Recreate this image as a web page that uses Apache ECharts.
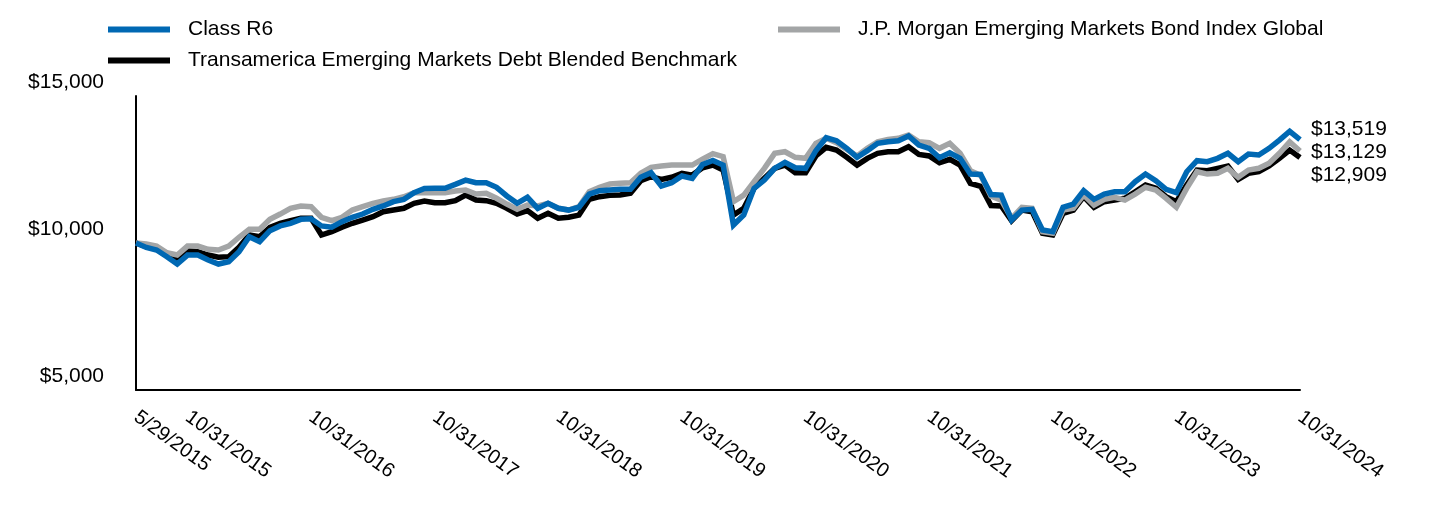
<!DOCTYPE html>
<html>
<head>
<meta charset="utf-8">
<script src="https://cdn.jsdelivr.net/npm/echarts@6/dist/echarts.min.js"></script>
<style>
html,body{margin:0;padding:0;background:#ffffff;}
#chart{width:1440px;height:516px;}
</style>
</head>
<body>
<div id="chart"></div>
<script>
// ---------- DATA ----------
const seriesNames = [
  'Class R6',
  'J.P. Morgan Emerging Markets Bond Index Global',
  'Transamerica Emerging Markets Debt Blended Benchmark'
];

const tickLabels = ['5/29/2015','10/31/2015','10/31/2016','10/31/2017','10/31/2018',
  '10/31/2019','10/31/2020','10/31/2021','10/31/2022','10/31/2023','10/31/2024'];

const yTicks = [5000, 10000, 15000];

// monthly observation dates: 5/29/2015 then every month end to 10/31/2024
const categories = ['5/29/2015'];
for (let k = 1; k < 114; k++) {
  const m0 = 4 + k;
  const y = 2015 + Math.floor(m0 / 12), m = m0 % 12;
  const last = new Date(Date.UTC(y, m + 1, 0)).getUTCDate();
  categories.push((m + 1) + '/' + last + '/' + y);
}

const classR6 = [
  10000, 9850, 9760, 9530, 9285, 9590, 9590, 9420, 9285, 9365,
  9700, 10215, 10045, 10420, 10580, 10670, 10805, 10825, 10580, 10535,
  10725, 10875, 10985, 11145, 11260, 11405, 11485, 11710, 11855, 11860,
  11860, 11995, 12140, 12050, 12050, 11895, 11600, 11350, 11555, 11180,
  11350, 11180, 11120, 11215, 11665, 11780, 11800, 11825, 11825, 12235,
  12390, 11940, 12050, 12280, 12200, 12670, 12810, 12650, 10610, 10950,
  11860, 12140, 12540, 12745, 12560, 12540, 13140, 13580, 13480, 13220,
  12915, 13140, 13390, 13445, 13480, 13640, 13330, 13220, 12900, 13070,
  12880, 12345, 12330, 11650, 11630, 10780, 11120, 11145, 10440, 10385,
  11215, 11325, 11780, 11485, 11665, 11745, 11745, 12085, 12345, 12120,
  11825, 11710, 12425, 12800, 12765, 12880, 13050, 12765, 13025, 12995,
  13220, 13500, 13800, 13519
];

const jpmEmbiGlobal = [
  10000, 9965, 9895, 9670, 9590, 9895, 9895, 9785, 9760, 9895,
  10195, 10465, 10465, 10805, 10985, 11180, 11260, 11235, 10875, 10760,
  10875, 11120, 11235, 11350, 11430, 11485, 11575, 11710, 11710, 11710,
  11710, 11770, 11800, 11665, 11690, 11520, 11325, 11145, 11290, 11260,
  11350, 11180, 11120, 11235, 11745, 11895, 12005, 12030, 12050, 12370,
  12575, 12620, 12650, 12650, 12650, 12850, 13040, 12935, 11405, 11630,
  12085, 12540, 13050, 13105, 12915, 12880, 13390, 13560, 13410, 13185,
  12960, 13220, 13445, 13525, 13560, 13675, 13445, 13410, 13220, 13390,
  13050, 12460, 12300, 11600, 11460, 10840, 11215, 11180, 10385, 10330,
  11120, 11180, 11630, 11290, 11485, 11555, 11460, 11665, 11895, 11800,
  11520, 11215, 11860, 12425, 12345, 12370, 12540, 12235, 12480, 12540,
  12710, 13050, 13440, 13129
];

const blendedBenchmark = [
  10000, 9875, 9820, 9650, 9480, 9740, 9705, 9590, 9515, 9535,
  9855, 10270, 10215, 10535, 10670, 10760, 10840, 10840, 10270, 10385,
  10535, 10670, 10780, 10895, 11065, 11120, 11180, 11350, 11430, 11370,
  11370, 11440, 11630, 11460, 11440, 11350, 11180, 10985, 11100, 10840,
  11010, 10840, 10875, 10950, 11485, 11575, 11620, 11630, 11690, 12120,
  12255, 12165, 12235, 12370, 12310, 12560, 12650, 12480, 10950, 11180,
  11860, 12200, 12540, 12650, 12390, 12390, 12960, 13255, 13160, 12915,
  12650, 12880, 13050, 13105, 13105, 13275, 13015, 12960, 12730, 12845,
  12650, 12030, 11930, 11275, 11260, 10760, 11120, 11065, 10330, 10270,
  11010, 11120, 11575, 11215, 11405, 11460, 11520, 11745, 11970, 11860,
  11575, 11405, 11970, 12480, 12460, 12540, 12620, 12165, 12370, 12425,
  12620, 12880, 13160, 12909
];

// ---------- STYLE ----------
const FONT = "'Liberation Sans', Arial, Helvetica, sans-serif";
const colors = { r6: '#0068b3', jpm: '#a3a5a6', bench: '#000000' };
const money = v => '$' + Number(v).toLocaleString('en-US');

function withEndLabel(values, dy) {
  const lastIdx = values.length - 1;
  return values.map((v, i) => i === lastIdx ? {
    value: v,
    label: {
      show: true, position: 'right', distance: 11, offset: [0, dy],
      formatter: p => money(p.value), color: '#000', fontSize: 21, fontFamily: FONT
    }
  } : v);
}

function lineSeries(name, values, color, z, dy) {
  return {
    name, type: 'line', data: withEndLabel(values, dy),
    showSymbol: true, symbol: 'circle', symbolSize: 0,
    lineStyle: { color, width: 5.5, join: 'miter' },
    itemStyle: { color },
    label: { show: false },
    z, silent: true, animation: false, emphasis: { disabled: true }
  };
}

const legendBase = {
  icon: 'rect', itemWidth: 62, itemHeight: 6, selectedMode: false, padding: 0,
  textStyle: { fontSize: 21, color: '#000', fontFamily: FONT, padding: [3, 0, 0, 13] }
};

const chart = echarts.init(document.getElementById('chart'), null, { renderer: 'canvas' });
chart.setOption({
  backgroundColor: '#ffffff',
  animation: false,
  textStyle: { fontFamily: FONT },
  legend: [
    Object.assign({ data: [seriesNames[0]], left: 108, top: 19 }, legendBase),
    Object.assign({ data: [seriesNames[1]], left: 778, top: 19 }, legendBase),
    Object.assign({ data: [seriesNames[2]], left: 108, top: 50 }, legendBase)
  ],
  grid: { left: 136, right: 140, top: 96, bottom: 126, containLabel: false },
  xAxis: {
    type: 'category', data: categories, boundaryGap: false,
    axisLine: { show: true, lineStyle: { color: '#000', width: 2 } },
    axisTick: { show: false },
    splitLine: { show: false },
    axisLabel: {
      interval: (idx, val) => tickLabels.includes(val),
      rotate: -36, margin: 25, fontSize: 20, color: '#000', fontFamily: FONT
    }
  },
  yAxis: {
    type: 'value', min: yTicks[0], max: yTicks[yTicks.length - 1], interval: 5000,
    axisLine: { show: true, lineStyle: { color: '#000', width: 2 } },
    axisTick: { show: false },
    splitLine: { show: false },
    axisLabel: {
      formatter: v => money(v), fontSize: 21, color: '#000', fontFamily: FONT,
      margin: 32, verticalAlign: 'bottom', lineHeight: 28
    }
  },
  series: [
    lineSeries(seriesNames[2], blendedBenchmark, colors.bench, 2, 17.5),
    lineSeries(seriesNames[1], jpmEmbiGlobal, colors.jpm, 3, 1),
    lineSeries(seriesNames[0], classR6, colors.r6, 4, -10.5)
  ]
});
</script>
</body>
</html>
